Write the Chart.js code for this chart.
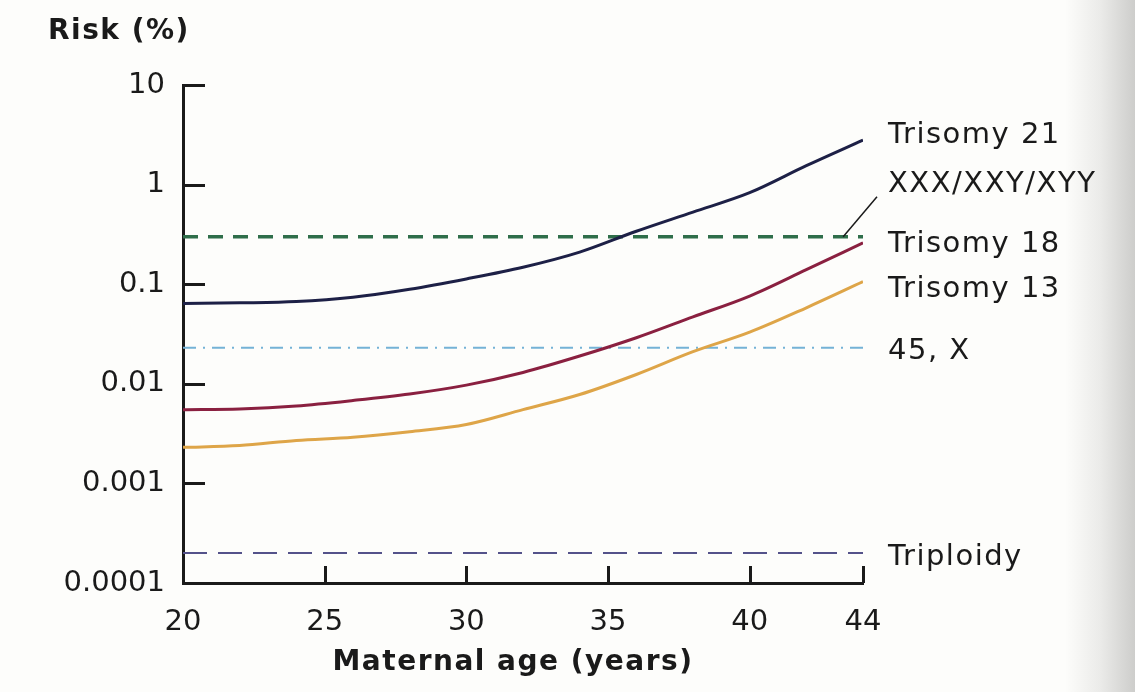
<!DOCTYPE html>
<html>
<head>
<meta charset="utf-8">
<script src="https://cdn.jsdelivr.net/npm/chart.js@4.4.1/dist/chart.umd.min.js"></script>
<style>
  html, body { margin: 0; padding: 0; }
  body {
    width: 1135px; height: 692px; overflow: hidden;
    background: linear-gradient(to right, #fdfdfb 0, #fdfdfb 1065px, #ebebe9 1100px, #cdcdcb 1135px);
  }
  canvas { display: block; }
</style>
</head>
<body>
<canvas id="riskChart" width="1135" height="692"></canvas>
<script>
// maternal age (years) and risk (%)
const ages      = [20, 22, 24, 26, 28, 30, 32, 34, 36, 38, 40, 42, 44];
const trisomy21 = [0.064, 0.065, 0.067, 0.074, 0.089, 0.113, 0.148, 0.21, 0.34, 0.53, 0.83, 1.55, 2.8];
const trisomy18 = [0.0055, 0.0056, 0.006, 0.0068, 0.0079, 0.0097, 0.013, 0.019, 0.029, 0.047, 0.076, 0.14, 0.26];
const trisomy13 = [0.0023, 0.0024, 0.0027, 0.0029, 0.0033, 0.0039, 0.0055, 0.0078, 0.0124, 0.021, 0.033, 0.058, 0.106];

// the flat ones are constant across the age range
const flatAges   = [20, 44];
const sexChrom   = [0.3, 0.3];       // XXX/XXY/XYY
const monosomyX  = [0.023, 0.023];   // 45, X
const triploidy  = [0.0002, 0.0002];

const xTicks = [20, 25, 30, 35, 40, 44];
const yTicks = [0.0001, 0.001, 0.01, 0.1, 1, 10];
const yTickLabels = ['0.0001', '0.001', '0.01', '0.1', '1', '10'];

const seriesNames = ['Trisomy 21', 'XXX/XXY/XYY', 'Trisomy 18', 'Trisomy 13', '45, X', 'Triploidy'];

const toPoints = (xs, ys) => xs.map((x, i) => ({ x: x, y: ys[i] }));

// label nudges (px) relative to each line's right end
const labelNudge = [-5, -52, 2, 8, 4, 4];
const ink = '#1a1a1a';

const endLabels = {
    id: 'endLabels',
    afterDraw(chart) {
        const { ctx, chartArea } = chart;
        const xs = chart.scales.x, ys = chart.scales.y;
        ctx.save();

        // inward tick marks
        ctx.strokeStyle = ink;
        ctx.lineWidth = 3;
        ctx.beginPath();
        yTicks.forEach(v => {
            const py = Math.round(ys.getPixelForValue(v)) + 0.5;
            ctx.moveTo(chartArea.left, py);
            ctx.lineTo(chartArea.left + 22, py);
        });
        xTicks.forEach(v => {
            const px = Math.round(xs.getPixelForValue(v)) + 0.5;
            ctx.moveTo(px, chartArea.bottom);
            ctx.lineTo(px, chartArea.bottom - 17);
        });
        ctx.stroke();

        // series names at the right
        ctx.fillStyle = ink;
        ctx.font = '29px "DejaVu Sans"';
        ctx.letterSpacing = '1.5px';
        ctx.textAlign = 'left';
        ctx.textBaseline = 'middle';
        chart.data.datasets.forEach((ds, i) => {
            const last = ds.data[ds.data.length - 1];
            const py = ys.getPixelForValue(last.y) + labelNudge[i];
            ctx.fillText(seriesNames[i], chartArea.right + 25, py);
        });

        // leader line for the sex chromosome label
        const sx = xs.getPixelForValue(43.3), sy = ys.getPixelForValue(sexChrom[1]);
        ctx.lineWidth = 1.5;
        ctx.beginPath();
        ctx.moveTo(sx, sy);
        ctx.lineTo(chartArea.right + 14, sy - 40);
        ctx.stroke();

        // axis titles
        ctx.font = 'bold 28px "DejaVu Sans"';
        ctx.letterSpacing = '1.5px';
        ctx.fillText('Risk (%)', 48, 32);
        ctx.textAlign = 'center';
        ctx.fillText('Maternal age (years)', (chartArea.left + chartArea.right) / 2 - 10, 663);
        ctx.restore();
    }
};

const canvas = document.getElementById('riskChart');

new Chart(canvas, {
    type: 'line',
    data: {
        datasets: [
            { data: toPoints(ages, trisomy21), borderColor: '#1d2046', borderWidth: 3 },
            { data: toPoints(flatAges, sexChrom), borderColor: '#2f6e4a', borderWidth: 3.5, borderDash: [15, 10] },
            { data: toPoints(ages, trisomy18), borderColor: '#8a2040', borderWidth: 3 },
            { data: toPoints(ages, trisomy13), borderColor: '#dea548', borderWidth: 3 },
            { data: toPoints(flatAges, monosomyX), borderColor: '#74b2d6', borderWidth: 2, borderDash: [13, 7, 2, 7] },
            { data: toPoints(flatAges, triploidy), borderColor: '#54528a', borderWidth: 2, borderDash: [24, 11] },
        ]
    },
    options: {
        responsive: false,
        animation: false,
        events: [],
        elements: {
            point: { radius: 0 },
            line: { cubicInterpolationMode: 'monotone', borderCapStyle: 'butt' }
        },
        layout: {
            padding: { left: 0, top: 85, right: 272, bottom: 0 }
        },
        plugins: {
            legend: { display: false },
            tooltip: { enabled: false }
        },
        scales: {
            x: {
                type: 'linear',
                min: 20,
                max: 44,
                afterBuildTicks: scale => { scale.ticks = xTicks.map(v => ({ value: v })); },
                afterFit: scale => { scale.height = 109; },
                grid: { display: false, drawTicks: false },
                border: { display: true, color: ink, width: 3 },
                ticks: {
                    color: ink,
                    padding: 22,
                    maxRotation: 0,
                    font: { family: '"DejaVu Sans"', size: 29 }
                }
            },
            y: {
                type: 'logarithmic',
                min: 0.0001,
                max: 10,
                afterBuildTicks: scale => { scale.ticks = yTicks.map(v => ({ value: v })); },
                afterFit: scale => { scale.width = 183; },
                grid: { display: false, drawTicks: false },
                border: { display: true, color: ink, width: 3 },
                ticks: {
                    color: ink,
                    padding: 18,
                    font: { family: '"DejaVu Sans"', size: 29 },
                    callback: value => yTickLabels[yTicks.indexOf(value)]
                }
            }
        }
    },
    plugins: [endLabels]
});
</script>
</body>
</html>
